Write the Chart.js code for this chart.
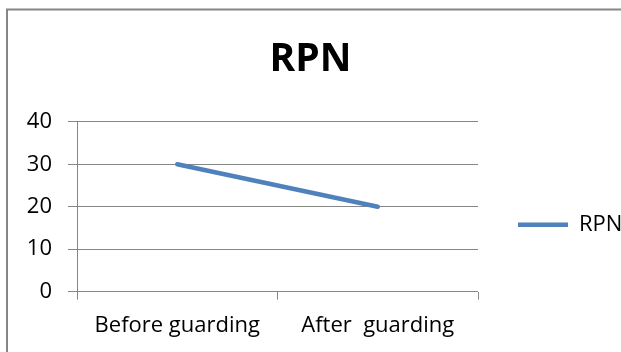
<!DOCTYPE html>
<html>
<head>
<meta charset="utf-8">
<script src="https://cdn.jsdelivr.net/npm/chart.js@4"></script>
<style>
  body { margin: 0; background: #fff; }
  #wrap { width: 621px; height: 352px; }
</style>
</head>
<body>
<div id="wrap"><canvas id="myChart" width="621" height="352"></canvas></div>
<script>
const stages = ['Before guarding', 'After  guarding'];
const rpnValues = [30, 20];
const yTicks = [0, 10, 20, 30, 40];

const lineColor = '#4f81bd';
const gridColor = '#878787';

// outer frame of the chart (only top and left edges show in the crop)
const framePlugin = {
    id: 'frame',
    beforeDraw(chart) {
        const c = chart.ctx;
        c.save();
        c.fillStyle = '#fff';
        c.fillRect(0, 0, chart.width, chart.height);
        c.strokeStyle = '#868686';
        c.lineWidth = 2;
        c.beginPath();
        c.moveTo(7, chart.height);
        c.lineTo(7, 9.5);
        c.lineTo(chart.width, 9.5);
        c.stroke();
        c.restore();
    }
};

Chart.defaults.font.family = '"Open Sans", sans-serif';
Chart.defaults.color = '#000';

const ctx = document.getElementById('myChart').getContext('2d');

const rpnChart = new Chart(ctx, {
    type: 'line',
    data: {
        labels: stages,
        datasets: [{
            label: 'RPN',
            data: rpnValues,
            borderColor: lineColor,
            backgroundColor: lineColor,
            borderWidth: 4.5,
            borderCapStyle: 'round',
            pointRadius: 0,
            tension: 0
        }]
    },
    options: {
        responsive: false,
        maintainAspectRatio: false,
        animation: false,
        layout: { padding: { top: 0, left: 0, right: 0, bottom: 0 } },
        scales: {
            x: {
                offset: true,
                grid: {
                    offset: true,
                    drawOnChartArea: false,
                    color: gridColor,
                    tickLength: 8
                },
                border: { display: false },
                ticks: { font: { size: 22 }, padding: 13, maxRotation: 0 }
            },
            y: {
                min: 0,
                max: 40,
                afterBuildTicks(scale) {
                    scale.ticks = yTicks.map(v => ({ value: v }));
                },
                afterFit(scale) { scale.width = 77; },
                grid: { color: gridColor, tickLength: 9 },
                border: { color: gridColor, width: 1 },
                ticks: { font: { size: 22 }, padding: 16 }
            }
        },
        plugins: {
            title: {
                display: true,
                text: 'RPN',
                font: { size: 39, weight: 'bold' },
                padding: { top: 36, bottom: 39 }
            },
            legend: {
                position: 'right',
                fullSize: false,
                maxWidth: 143,
                title: { display: true, text: '', font: { size: 10 }, padding: { top: 12, bottom: 12 } },
                labels: {
                    usePointStyle: true,
                    pointStyle: 'line',
                    pointStyleWidth: 50,
                    padding: 40,
                    font: { size: 22 }
                }
            },
            tooltip: { enabled: false }
        }
    },
    plugins: [framePlugin]
});
</script>
</body>
</html>
